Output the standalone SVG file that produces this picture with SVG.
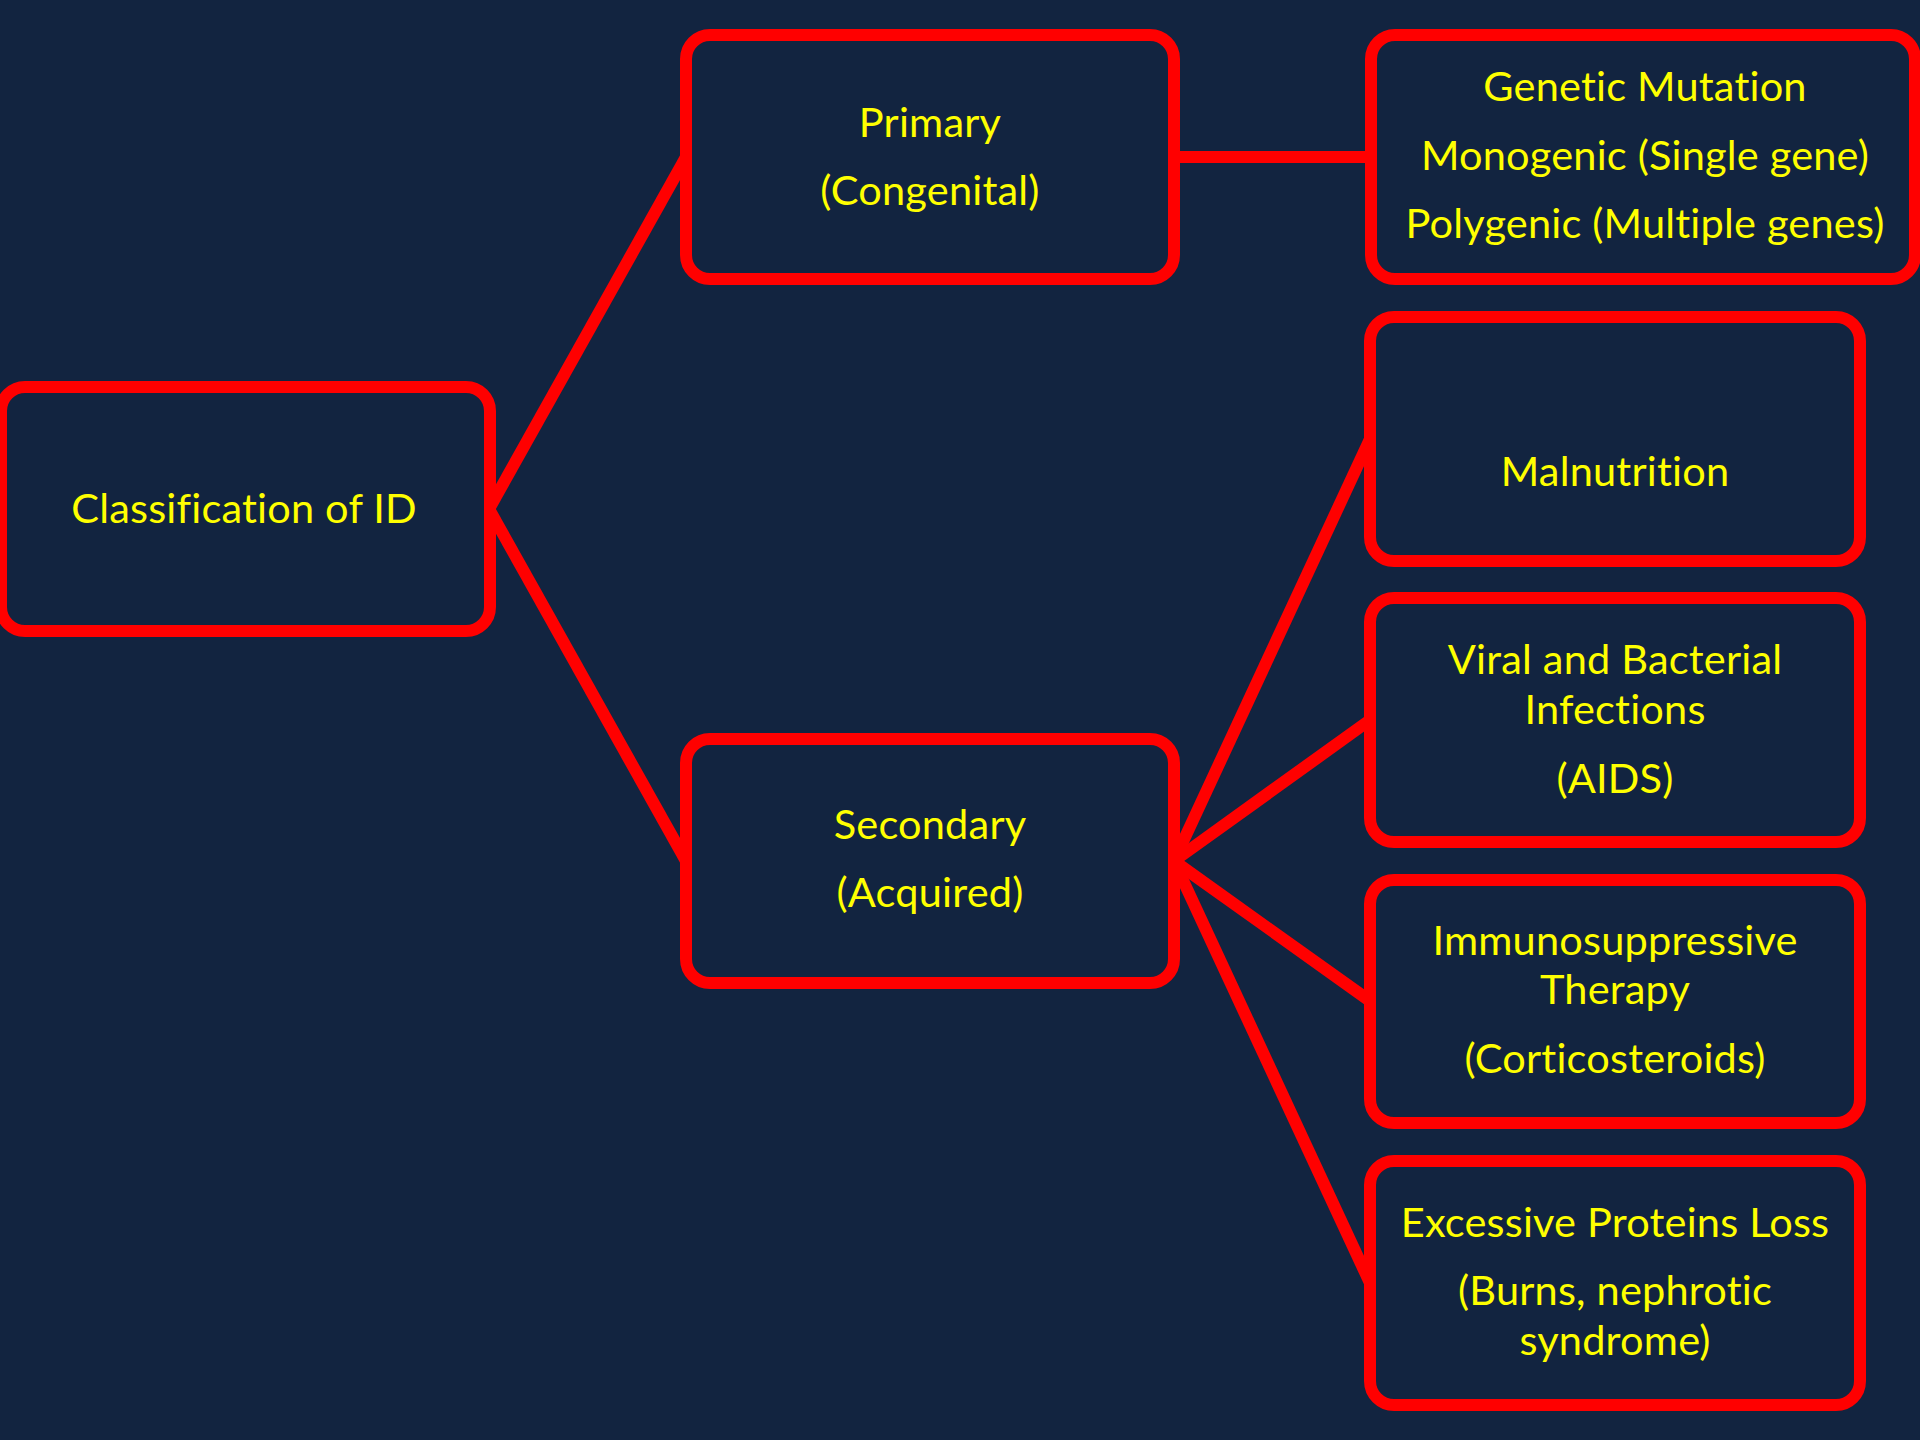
<svg xmlns="http://www.w3.org/2000/svg" width="1920" height="1440" viewBox="0 0 1920 1440">
<style>
.box{fill:#122440;stroke:#FF0000;stroke-width:12}
.lbl{fill:#FFFF00;font-family:Lato,"Open Sans","Liberation Sans",sans-serif;font-size:41.5px;text-anchor:middle;font-variant-ligatures:none;font-feature-settings:"liga" 0,"clig" 0;letter-spacing:0.2px}
.con{stroke:#FF0000;stroke-width:12;fill:none}
</style>
<rect x="0" y="0" width="1920" height="1440" fill="#122440"/>
<g id="connectors">
<line class="con" x1="489" y1="509" x2="686" y2="157"/>
<line class="con" x1="489" y1="509" x2="686" y2="861"/>
<line class="con" x1="1174" y1="157" x2="1371" y2="157"/>
<line class="con" x1="1174" y1="861" x2="1370" y2="439"/>
<line class="con" x1="1174" y1="861" x2="1370" y2="720"/>
<line class="con" x1="1174" y1="861" x2="1370" y2="1001"/>
<line class="con" x1="1174" y1="861" x2="1370" y2="1283"/>
</g>
<g id="classification">
<rect class="box" x="1" y="387" width="489" height="244" rx="24"/>
<text class="lbl" x="244" y="523">Classification of ID</text>
</g>
<g id="primary">
<rect class="box" x="686" y="35" width="488" height="244" rx="24"/>
<text class="lbl" x="930" y="137">Primary</text>
<text class="lbl" x="930" y="205">(Congenital)</text>
</g>
<g id="secondary">
<rect class="box" x="686" y="739" width="488" height="244" rx="24"/>
<text class="lbl" x="930" y="839">Secondary</text>
<text class="lbl" x="930" y="907">(Acquired)</text>
</g>
<g id="genetic">
<rect class="box" x="1371" y="35" width="544" height="244" rx="24"/>
<text class="lbl" x="1645" y="101">Genetic Mutation</text>
<text class="lbl" x="1645" y="170">Monogenic (Single gene)</text>
<text class="lbl" x="1645" y="238">Polygenic (Multiple genes)</text>
</g>
<g id="malnutrition">
<rect class="box" x="1370" y="317" width="490" height="244" rx="24"/>
<text class="lbl" x="1615" y="486">Malnutrition</text>
</g>
<g id="infections">
<rect class="box" x="1370" y="598" width="490" height="244" rx="24"/>
<text class="lbl" x="1615" y="674">Viral and Bacterial</text>
<text class="lbl" x="1615" y="724">Infections</text>
<text class="lbl" x="1615" y="793">(AIDS)</text>
</g>
<g id="immunosuppressive">
<rect class="box" x="1370" y="880" width="490" height="243" rx="24"/>
<text class="lbl" x="1615" y="955">Immunosuppressive</text>
<text class="lbl" x="1615" y="1004">Therapy</text>
<text class="lbl" x="1615" y="1073">(Corticosteroids)</text>
</g>
<g id="protein-loss">
<rect class="box" x="1370" y="1161" width="490" height="244" rx="24"/>
<text class="lbl" x="1615" y="1237">Excessive Proteins Loss</text>
<text class="lbl" x="1615" y="1305">(Burns, nephrotic</text>
<text class="lbl" x="1615" y="1355">syndrome)</text>
</g>
</svg>
